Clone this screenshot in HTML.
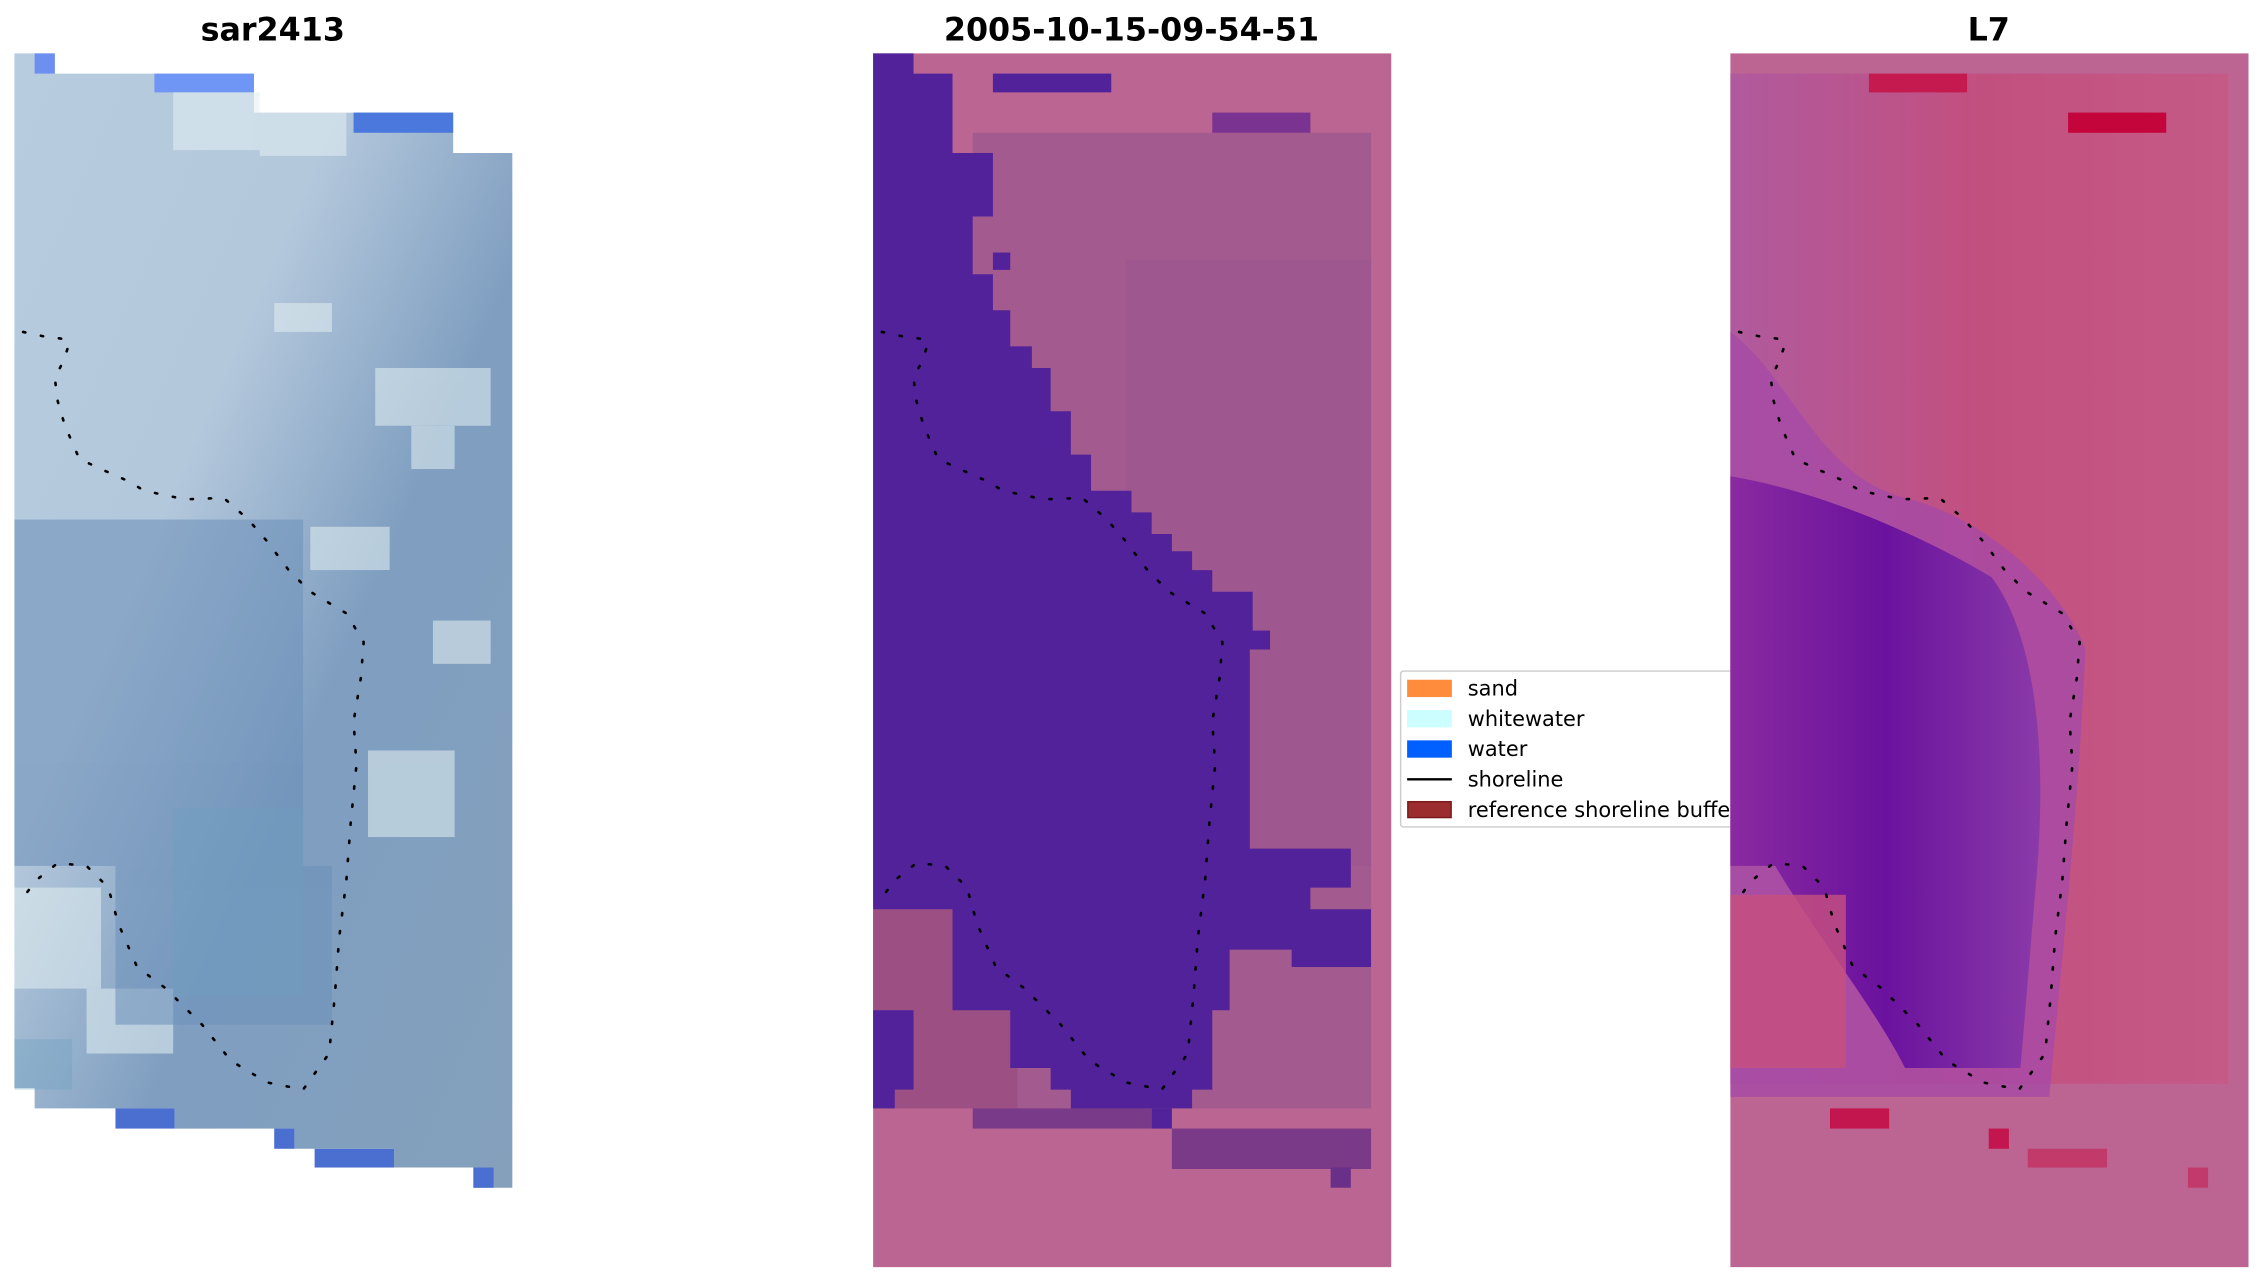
<!DOCTYPE html>
<html><head><meta charset="utf-8"><style>
html,body{margin:0;padding:0;background:#fff;width:2263px;height:1283px;overflow:hidden}
svg{display:block}
</style></head><body>
<svg width="2263" height="1283" viewBox="0 0 2263 1283" xmlns="http://www.w3.org/2000/svg">
<defs>
<linearGradient id="lg1" x1="0" y1="0" x2="1" y2="1">
<stop offset="0" stop-color="#b8cce0"/><stop offset="0.35" stop-color="#b4c8dc"/><stop offset="0.6" stop-color="#7f9ec0"/><stop offset="1" stop-color="#84a0bb"/>
</linearGradient>
<linearGradient id="rg1" x1="0" y1="0" x2="1" y2="0">
<stop offset="0" stop-color="#8a2aa0"/><stop offset="0.5" stop-color="#6a129e"/><stop offset="1" stop-color="#8a3aa8"/>
</linearGradient>
<linearGradient id="rtop" x1="0" y1="0" x2="1" y2="0">
<stop offset="0" stop-color="#b05a9e"/><stop offset="0.5" stop-color="#c2507f"/><stop offset="1" stop-color="#c55a86"/>
</linearGradient>
<path id="sh" d="M16,230 L30,233 L45,235 L48,238 L44,250 L38,262 L40,278 L45,295 L55,318 L70,325 L88,333 L100,340 L128,346 L155,345 L172,360 L185,375 L200,395 L215,410 L240,425 L252,445 L250,470 L245,500 L247,530 L243,570 L240,610 L235,650 L232,690 L228,730 L210,755 L185,750 L160,735 L140,710 L115,685 L95,670 L82,640 L75,615 L60,600 L40,598 L25,610 L16,622"/>
</defs>
<g transform="scale(1.4432)">
<g font-family="DejaVu Sans, Liberation Sans, sans-serif" font-weight="bold" font-size="22" text-anchor="middle" fill="#000">
<text x="189" y="28">sar2413</text>
<text x="784" y="28">2005-10-15-09-54-51</text>
<text x="1378" y="28">L7</text>
</g>

<!-- LEFT PANEL -->
<path d="M10,37H38V51H176V78H314V106H355V823H328V809H273V796H204V782H121V768H24V754H10Z" fill="url(#lg1)"/>
<rect x="24" y="37" width="14" height="14" fill="#6d8ff0"/>
<rect x="107" y="51" width="69" height="13" fill="#6f96f5"/>
<rect x="245" y="78" width="69" height="14" fill="#4a78dd"/>
<rect x="80" y="768" width="41" height="14" fill="#4a6fd0"/>
<rect x="190" y="782" width="14" height="14" fill="#4a6fd0"/>
<rect x="218" y="796" width="55" height="13" fill="#4a6fd0"/>
<rect x="328" y="809" width="14" height="14" fill="#4a6fd0"/>
<g fill="#e4f0f2" opacity="0.55">
<rect x="120" y="64" width="60" height="40"/><rect x="180" y="78" width="60" height="30"/>
<rect x="190" y="210" width="40" height="20"/><rect x="260" y="255" width="80" height="40"/>
<rect x="285" y="295" width="30" height="30"/><rect x="215" y="365" width="55" height="30"/>
<rect x="300" y="430" width="40" height="30"/><rect x="255" y="520" width="60" height="60"/>
<rect x="10" y="615" width="60" height="70"/><rect x="60" y="685" width="60" height="45"/>
</g>
<g fill="#6f92ba" opacity="0.6">
<rect x="10" y="360" width="200" height="240"/><rect x="80" y="600" width="150" height="110"/>
</g>
<g fill="#6aa0bf" opacity="0.35"><rect x="120" y="560" width="90" height="130"/><rect x="10" y="720" width="40" height="35"/></g>

<!-- CENTER PANEL -->
<rect x="605" y="37" width="359" height="841" fill="#bb6593"/>
<rect x="674" y="92" width="276" height="676" fill="#a25a8f"/>
<rect x="780" y="180" width="170" height="420" fill="#9b5590" opacity="0.6"/>
<rect x="605" y="630" width="100" height="138" fill="#9c4f82"/>
<rect x="674" y="768" width="124" height="14" fill="#7a3a8a"/>
<rect x="812" y="782" width="138" height="28" fill="#7a3a88"/>
<rect x="840" y="78" width="68" height="14" fill="#7a3390"/>
<rect x="922" y="809" width="14" height="14" fill="#6a2f88"/>
<path d="M605,37H633V51H660V106H688V150H674V190H688V215H700V240H715V255H728V285H742V315H756V340H784V355H798V370H812V382H826V395H840V410H868V437H880V450H866V588H936V615H908V630H950V670H895V658H852V700H840V755H826V768H742V755H728V740H700V700H660V630H605Z" fill="#52229a"/>
<path d="M605,700H633V755H620V768H605Z" fill="#52229a"/>
<rect x="688" y="51" width="82" height="13" fill="#52229a"/>
<rect x="688" y="175" width="12" height="12" fill="#52229a"/>
<rect x="798" y="768" width="14" height="14" fill="#52229a"/>

<!-- LEGEND (drawn beneath right panel) -->
<rect x="970.5" y="465" width="260" height="108" rx="2" fill="#fff" stroke="#ccc" stroke-width="1"/>
<rect x="975" y="471" width="31" height="12" fill="#ff8c3c"/>
<rect x="975" y="492" width="31" height="12" fill="#ccfdff"/>
<rect x="975" y="513" width="31" height="12" fill="#0060ff"/>
<line x1="975" y1="540" x2="1006" y2="540" stroke="#000" stroke-width="1.6"/>
<rect x="975.5" y="555.5" width="30" height="11" fill="#9b2d2f" stroke="#7a1a1a" stroke-width="1"/>
<g font-family="DejaVu Sans, Liberation Sans, sans-serif" font-size="14.5" fill="#000">
<text x="1017" y="482">sand</text>
<text x="1017" y="503">whitewater</text>
<text x="1017" y="524">water</text>
<text x="1017" y="545">shoreline</text>
<text x="1017" y="566">reference shoreline buffer</text>
</g>

<!-- RIGHT PANEL -->
<rect x="1199" y="37" width="359" height="841" fill="#bc6593"/>
<rect x="1199" y="51" width="345" height="700" fill="url(#rtop)"/>
<rect x="1295" y="51" width="68" height="13" fill="#c41a50"/>
<rect x="1433" y="78" width="68" height="14" fill="#c4053c"/>
<path d="M1199,230 C1240,260 1260,330 1320,345 C1380,360 1430,410 1445,450 C1440,560 1430,650 1420,760 L1199,760 Z" fill="#a64aa6" opacity="0.8"/>
<path d="M1199,330 C1260,340 1330,370 1380,400 C1410,440 1420,520 1410,620 L1400,740 L1320,740 C1300,700 1260,650 1230,600 L1199,600 Z" fill="url(#rg1)"/>
<rect x="1199" y="620" width="80" height="120" fill="#c7507e" opacity="0.8"/>
<rect x="1268" y="768" width="41" height="14" fill="#c4164e"/>
<rect x="1378" y="782" width="14" height="14" fill="#c4164e"/>
<rect x="1405" y="796" width="55" height="13" fill="#c23a6a"/>
<rect x="1516" y="809" width="14" height="14" fill="#c23a6a"/>

<!-- SHORELINES -->
<g fill="none" stroke="#000" stroke-width="1.8" stroke-dasharray="1.6 11" stroke-linecap="round">
<use href="#sh"/>
<use href="#sh" transform="translate(595,0)"/>
<use href="#sh" transform="translate(1189,0)"/>
</g>
</g>
</svg>
</body></html>
